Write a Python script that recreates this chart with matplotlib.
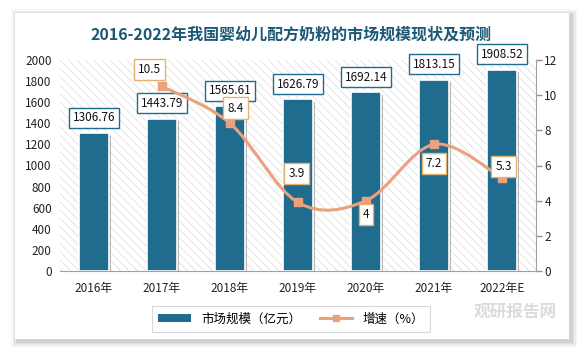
import matplotlib
matplotlib.use("Agg")
import matplotlib.pyplot as plt
from matplotlib.patches import Rectangle
from matplotlib.path import Path
from matplotlib.patches import PathPatch
import matplotlib.patheffects as pe
from matplotlib.lines import Line2D
import numpy as np

plt.rcParams['font.family'] = ['Noto Sans CJK SC', 'DejaVu Sans']
plt.rcParams['hatch.linewidth'] = 0.5

# data
years = ["2016年", "2017年", "2018年", "2019年", "2020年", "2021年", "2022年E"]
market = [1306.76, 1443.79, 1565.61, 1626.79, 1692.14, 1813.15, 1908.52]
growth_years = [1, 2, 3, 4, 5, 6]
growth = [10.5, 8.4, 3.9, 4, 7.2, 5.3]
# label offsets (points) for growth labels
growth_off = [(-9, 12), (4, 11), (-1, 21), (0, -10), (0, -14), (1, 8)]

BAR = "#1F6C8E"
LINE = "#EBA07E"
LBOX = "#E2B36F"

W, H = 583, 352
fig = plt.figure(figsize=(W / 100, H / 100), dpi=100, facecolor="white")

# card with soft shadow
for i, a in enumerate([0.03, 0.04, 0.05, 0.06]):
    d = 6 - i * 1.5
    fig.patches.append(Rectangle(((15 - d + 2) / W, (352 - 339 - d - 2) / H),
                                 (554 + 2 * d) / W, (326 + 2 * d) / H,
                                 transform=fig.transFigure, facecolor="black",
                                 alpha=a, edgecolor="none", zorder=0))
fig.patches.append(Rectangle((15 / W, (352 - 339) / H), 554 / W, 326 / H,
                             transform=fig.transFigure, facecolor="white",
                             edgecolor="none", zorder=0.5))

ax = fig.add_axes([60 / W, (352 - 271) / H, 476 / W, 211 / H])
ax.set_zorder(1)
ax.patch.set_facecolor("white")
ax.patch.set_edgecolor("#DADADA")
ax.patch.set_hatch("\\\\\\\\")
ax.patch.set_linewidth(0)

x = np.arange(len(years))
bars = ax.bar(x, market, width=0.43, color=BAR, edgecolor="white", linewidth=1.2, zorder=2)
for b in bars:
    b.set_path_effects([pe.SimplePatchShadow(offset=(2, -2), shadow_rgbFace="#777777", alpha=0.5),
                        pe.Normal()])
ax.set_ylim(0, 2000)
ax.set_xlim(-0.5, len(years) - 0.5)
ax.set_yticks(range(0, 2001, 200))
ax.set_xticks(x)
ax.set_xticklabels(years)
ax.tick_params(axis="y", length=0, labelsize=8.5, pad=6, labelcolor="#222222")
ax.tick_params(axis="x", length=0, labelsize=8.5, pad=8, labelcolor="#222222")
for s in ["top", "left", "right"]:
    ax.spines[s].set_visible(False)
ax.spines["bottom"].set_color("#A0A0A0")
ax.spines["bottom"].set_zorder(5)

for xi, v in zip(x, market):
    ax.annotate(f"{v:.2f}", (xi, v), xytext=(0, 11), textcoords="offset points",
                ha="center", va="center", fontsize=8.5, color="#111111",
                annotation_clip=False, zorder=6,
                bbox=dict(boxstyle="square,pad=0.3", fc="white", ec=BAR, lw=1))

ax2 = ax.twinx()
ax2.set_ylim(0, 12)
ax2.set_yticks(range(0, 13, 2))
ax2.tick_params(axis="y", length=4, width=1, color="#909090", labelsize=8.5,
                pad=2, labelcolor="#222222")
for s in ["top", "left", "bottom"]:
    ax2.spines[s].set_visible(False)
ax2.spines["right"].set_color("#A0A0A0")

# smooth curve through growth points (Catmull-Rom style bezier)
px = np.array(growth_years, dtype=float)
py = np.array(growth, dtype=float)
verts = [(px[0], py[0])]
codes = [Path.MOVETO]
n = len(px)
for i in range(n - 1):
    p0 = (px[max(i - 1, 0)], py[max(i - 1, 0)])
    p1 = (px[i], py[i])
    p2 = (px[i + 1], py[i + 1])
    p3 = (px[min(i + 2, n - 1)], py[min(i + 2, n - 1)])
    c1 = (p1[0] + (p2[0] - p0[0]) / 6, p1[1] + (p2[1] - p0[1]) / 6)
    c2 = (p2[0] - (p3[0] - p1[0]) / 6, p2[1] - (p3[1] - p1[1]) / 6)
    verts += [c1, c2, p2]
    codes += [Path.CURVE4] * 3
ax2.add_patch(PathPatch(Path(verts, codes), fc="none", ec=LINE, lw=2.2, zorder=3))
ax2.plot(px, py, ls="none", marker="s", ms=6, color=LINE, zorder=4)

for xi, v, off in zip(growth_years, growth, growth_off):
    ax2.annotate(f"{v:g}", (xi, v), xytext=off, textcoords="offset points",
                 ha="center", va="center", fontsize=8.5, color="#111111",
                 annotation_clip=False, zorder=6,
                 bbox=dict(boxstyle="square,pad=0.35", fc="white", ec=LBOX, lw=1))

fig.text(291 / W, 1 - 35 / H, "2016-2022年我国婴幼儿配方奶粉的市场规模现状及预测",
         ha="center", va="center", fontsize=11.5, fontweight="bold", color="#1B5876")

handles = [Rectangle((0, 0), 1, 1, fc=BAR, ec="none"),
           Line2D([], [], color=LINE, lw=2.2, marker="s", ms=5)]
leg = fig.legend(handles, ["市场规模（亿元）", "增速（%）"], ncol=2,
                 loc="center", bbox_to_anchor=(291 / W, 1 - 319 / H),
                 fontsize=9, frameon=True, fancybox=False, edgecolor="#D0D0D0",
                 handlelength=2.6, handleheight=0.6, columnspacing=1.5,
                 borderpad=0.5)
leg.get_frame().set_linewidth(0.8)

# faint watermark
fig.text(515 / W, 1 - 312 / H, "观研报告网", ha="center", va="center",
         fontsize=12, fontweight="bold", color="#C4C4C4", alpha=0.6)

fig.savefig("out.png", dpi=100, facecolor="white")
